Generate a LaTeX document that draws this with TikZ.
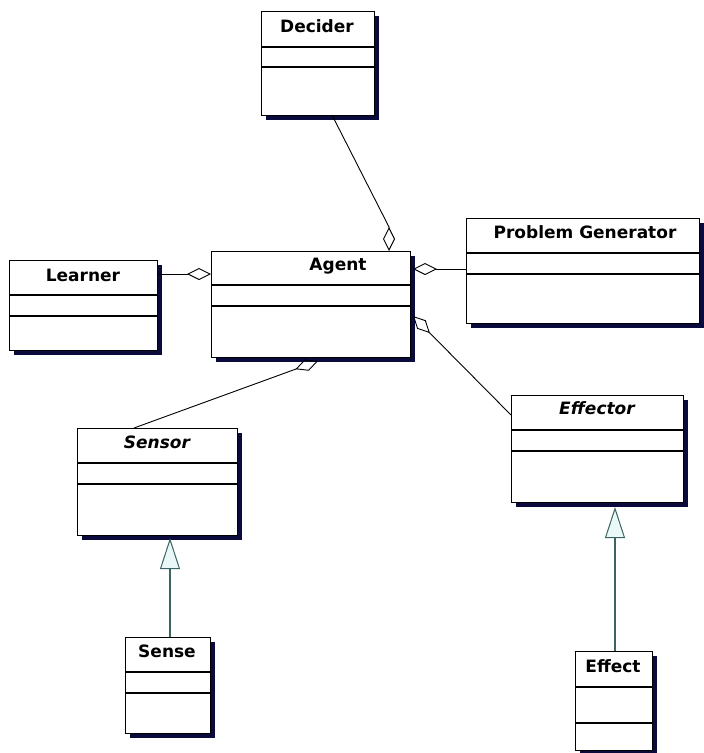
\documentclass[tikz,border=0pt]{standalone}
\usepackage{fontspec}
\setmainfont{DejaVu Sans}
\usetikzlibrary{arrows.meta,shadows}
\definecolor{shadowc}{RGB}{10,10,60}
\definecolor{inhc}{RGB}{60,100,98}
\definecolor{trifill}{RGB}{235,248,248}
\begin{document}
\begin{tikzpicture}[x=1pt,y=-1pt,
 cls/.style={draw=black, line width=1.3pt, fill=white, rectangle, inner sep=0pt, anchor=north west,
   drop shadow={shadow xshift=4pt, shadow yshift=-4pt, fill=shadowc, opacity=1}},
 ttl/.style={anchor=base, font=\fontsize{17}{19}\selectfont\bfseries, inner sep=0pt},
 ittl/.style={anchor=base, font=\fontsize{17}{19}\selectfont\bfseries\itshape, inner sep=0pt},
 div/.style={line width=1.3pt},
 agg/.style={line width=0.9pt, {Diamond[open,length=24pt,width=12pt,line width=0.9pt]}-},
 inh/.style={draw=inhc, line width=1.2pt, {Triangle[length=31pt,width=20pt,fill=trifill,line width=1pt]}-}]
\useasboundingbox (0,0) rectangle (704,753);
\fill[white] (0,0) rectangle (704,753);

% classes
\node[cls, minimum width=113pt, minimum height=104pt] (decider) at (261,11) {};
\node[cls, minimum width=199pt, minimum height=106pt] (agent) at (211,251) {};
\node[cls, minimum width=148pt, minimum height=90pt] (learner) at (9,260) {};
\node[cls, minimum width=233pt, minimum height=105pt] (pg) at (466,218) {};
\node[cls, minimum width=160pt, minimum height=107pt] (sensor) at (77,428) {};
\node[cls, minimum width=172pt, minimum height=107pt] (effector) at (511,395) {};
\node[cls, minimum width=85pt, minimum height=96pt] (sense) at (125,637) {};
\node[cls, minimum width=77pt, minimum height=99pt] (effect) at (575,651) {};

% compartments
\draw[div] (decider.west |- 0,47) -- (decider.east |- 0,47);
\draw[div] (decider.west |- 0,67) -- (decider.east |- 0,67);
\draw[div] (agent.west |- 0,285) -- (agent.east |- 0,285);
\draw[div] (agent.west |- 0,306) -- (agent.east |- 0,306);
\draw[div] (learner.west |- 0,295) -- (learner.east |- 0,295);
\draw[div] (learner.west |- 0,316) -- (learner.east |- 0,316);
\draw[div] (pg.west |- 0,253) -- (pg.east |- 0,253);
\draw[div] (pg.west |- 0,274) -- (pg.east |- 0,274);
\draw[div] (sensor.west |- 0,463) -- (sensor.east |- 0,463);
\draw[div] (sensor.west |- 0,484) -- (sensor.east |- 0,484);
\draw[div] (effector.west |- 0,430) -- (effector.east |- 0,430);
\draw[div] (effector.west |- 0,451) -- (effector.east |- 0,451);
\draw[div] (sense.west |- 0,672) -- (sense.east |- 0,672);
\draw[div] (sense.west |- 0,693) -- (sense.east |- 0,693);
\draw[div] (effect.west |- 0,687) -- (effect.east |- 0,687);
\draw[div] (effect.west |- 0,723) -- (effect.east |- 0,723);

% titles
\node[ttl] (deciderT) at (317,32) {Decider};
\node[ttl] (agentT) at (338,270) {Agent};
\node[ttl] (learnerT) at (83,281) {Learner};
\node[ttl] (pgT) at (585,238) {Problem Generator};
\node[ittl] (sensorT) at (157,448) {Sensor};
\node[ittl] (effectorT) at (597,414) {Effector};
\node[ttl] (senseT) at (167,657) {Sense};
\node[ttl] (effectT) at (613,672) {Effect};

% aggregation connectors
\coordinate (aDec) at (389,251);
\coordinate (aDecK) at (389,227);
\coordinate (dDec) at (332,115);
\draw[agg] (aDec) -- (aDecK) -- (dDec);
\draw[agg] (agent.west |- 0,274) -- (learner.east |- 0,274);
\coordinate (aPG) at (413,269);
\draw[agg] (aPG) -- (pg.west |- aPG);
\coordinate (aEff) at (413,316);
\draw[agg] (aEff) -- (effector.west |- 0,415);
\coordinate (aSen) at (318,361);
\draw[agg] (aSen) -- (sensor.north -| 134,0);

% generalization connectors
\coordinate (senB) at (170,538);
\draw[inh] (senB) -- (sense.north -| senB);
\coordinate (effB) at (615,507);
\draw[inh] (effB) -- (effect.north -| effB);
\end{tikzpicture}
\end{document}
